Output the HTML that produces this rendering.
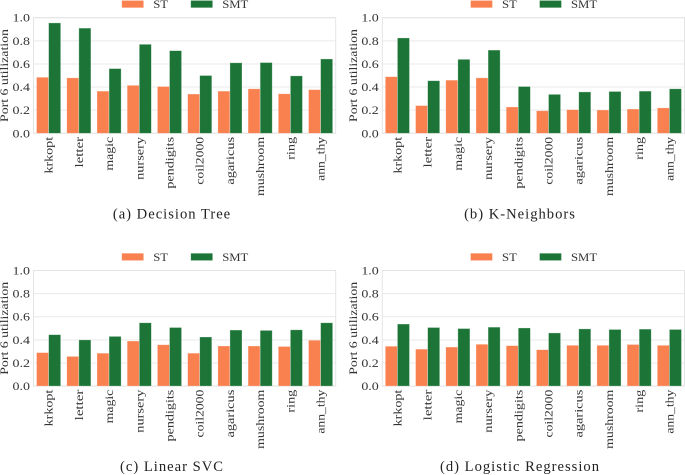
<!DOCTYPE html>
<html>
<head>
<meta charset="utf-8">
<title>Port 6 utilization</title>
<style>
html,body{margin:0;padding:0;background:#fff;width:685px;height:475px;overflow:hidden}
svg{display:block;filter:blur(0.25px)}
text{font-family:"Liberation Serif",serif;fill:#333}
.cap{font-family:"Liberation Serif",serif;font-size:14.6px;letter-spacing:1px;fill:#222}
</style>
</head>
<body>
<svg id="fig" width="685" height="475" viewBox="0 0 685 475" xmlns="http://www.w3.org/2000/svg"></svg>
<script>
const categories = ["krkopt","letter","magic","nursery","pendigits","coil2000","agaricus","mushroom","ring","ann_thy"];
const yTicks = [0, 0.2, 0.4, 0.6, 0.8, 1.0];
const seriesNames = ["ST","SMT"];
const dtST  = [0.485,0.48,0.365,0.415,0.405,0.34,0.365,0.385,0.342,0.378];
const dtSMT = [0.955,0.91,0.56,0.77,0.715,0.50,0.61,0.612,0.497,0.643];
const knST  = [0.49,0.24,0.46,0.48,0.228,0.195,0.205,0.202,0.21,0.22];
const knSMT = [0.825,0.455,0.64,0.72,0.405,0.337,0.358,0.362,0.365,0.385];
const svcST  = [0.29,0.257,0.285,0.39,0.358,0.285,0.347,0.347,0.343,0.397];
const svcSMT = [0.445,0.40,0.43,0.548,0.507,0.425,0.485,0.482,0.487,0.548];
const lrST  = [0.345,0.32,0.338,0.362,0.35,0.315,0.353,0.353,0.36,0.353];
const lrSMT = [0.537,0.507,0.498,0.51,0.503,0.46,0.495,0.49,0.493,0.49];

const NS = "http://www.w3.org/2000/svg";
const fig = document.getElementById("fig");
const colors = ["#f9804f", "#1c7537"];

// Advance widths (em) of the wide serif used in the reference, so the narrower
// installed serif can be stretched per label to the same length.
const advances = {a:.596,b:.64,c:.56,d:.64,e:.592,f:.37,g:.64,h:.644,i:.32,j:.32,k:.606,l:.32,m:.948,n:.644,o:.602,p:.64,q:.64,r:.478,s:.513,t:.402,u:.644,v:.565,w:.856,x:.564,y:.565,z:.527,_:.5,".":.318," ":.318,P:.603,S:.685,T:.667,M:1.024};
const refFontSize = 11;

function targetLength(str) {
  let em = 0;
  for (const ch of str) em += (ch in advances) ? advances[ch] : 0.636;
  return em * refFontSize;
}

function make(parent, tag, attrs, txt) {
  const el = document.createElementNS(NS, tag);
  for (const k in attrs) el.setAttribute(k, attrs[k]);
  if (txt !== undefined) el.textContent = txt;
  parent.appendChild(el);
  return el;
}

function label(parent, str, x, y, anchor, rot) {
  const el = make(parent, "text", {x: 0, y: 0, "text-anchor": anchor, "font-size": 11.8}, str);
  const stretch = targetLength(str) / el.getComputedTextLength();
  el.setAttribute("transform", "translate(" + x + " " + y + ") rotate(" + rot + ") scale(" + stretch + " 1)");
  return el;
}

function drawPanel(key, caption, capX, left, top, st, smt) {
  const W = 302.2, H = 115.6;
  const xPos = i => left + W * (i + 0.5) / categories.length;
  const yPos = v => top + H * (1 - v);
  const bw = 0.8 * (W / categories.length) / 2;

  const g = make(fig, "g", {});
  
  

  yTicks.forEach(t => {
    const line = make(g, "line", {x1: left, x2: left + W, y1: yPos(t), y2: yPos(t), stroke: "#e9e9e9", "stroke-width": 1});
    
    
    const lab = label(g, t.toFixed(1), left - 3.5, yPos(t) + 4, "end", 0);
    
    
  });

  const frame = make(g, "rect", {x: left, y: top, width: W, height: H, fill: "none", stroke: "#e4e4e4", "stroke-width": 1});
  
  

  [st, smt].forEach((vals, s) => {
    vals.forEach((v, i) => {
      const bx = xPos(i) + (s === 0 ? -bw : 0);
      const bar = make(g, "rect", {x: bx, y: yPos(v), width: bw, height: yPos(0) - yPos(v), fill: colors[s], stroke: "rgba(255,255,255,.45)", "stroke-width": 0.7});
      
      
    });
  });

  categories.forEach((c, i) => {
    const lab = label(g, c, xPos(i) + 4, top + H + 3.6, "end", -90);
    
    
  });

  const yt = label(g, "Port 6 utilization", left - 25.5, top + H / 2, "middle", -90);
  
  

  const legendOffsets = [88.2, 157.2];
  seriesNames.forEach((name, s) => {
    const px = left + legendOffsets[s];
    const patch = make(g, "rect", {x: px, y: top - 17.3, width: 22, height: 7.4, fill: colors[s], stroke: "rgba(255,255,255,.5)", "stroke-width": 0.7});
    
    
    const lab = label(g, name, px + 31.5, top - 9.6, "start", 0);
    
    
  });

  const cap = make(g, "text", {x: capX, y: top + H + 85, "text-anchor": "middle", "class": "cap"}, caption);
  
  
}

drawPanel("decision-tree", "(a) Decision Tree", 172, 33.5, 17.7, dtST, dtSMT);
drawPanel("k-neighbors", "(b) K-Neighbors", 520, 382.3, 17.7, knST, knSMT);
drawPanel("linear-svc", "(c) Linear SVC", 172, 33.5, 270.5, svcST, svcSMT);
drawPanel("logistic-regression", "(d) Logistic Regression", 520, 382.3, 270.5, lrST, lrSMT);
</script>
</body>
</html>
